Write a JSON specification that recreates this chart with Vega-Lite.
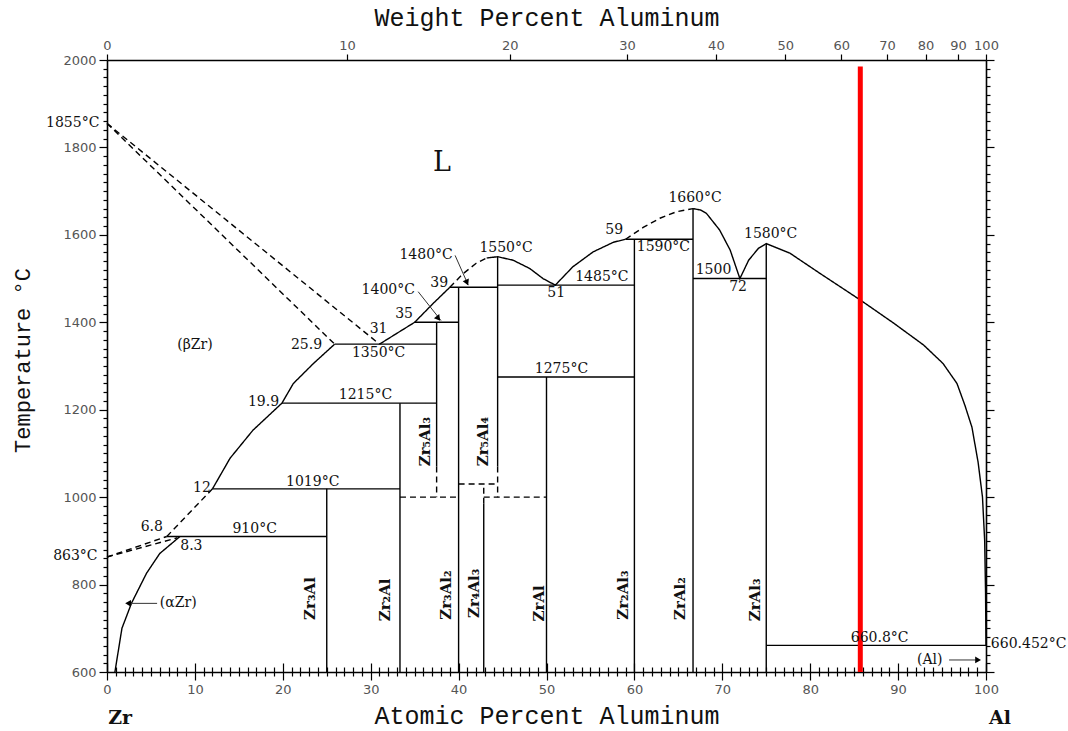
{
  "$schema": "https://vega.github.io/schema/vega-lite/v6.json",
  "width": 879,
  "height": 612,
  "autosize": {"type": "none"},
  "padding": {"left": 107, "top": 60, "right": 82, "bottom": 59},
  "background": "white",
  "config": {
    "view": {"stroke": null},
    "axis": {
      "grid": false,
      "domainColor": "black",
      "domainWidth": 1.6,
      "tickColor": "black",
      "tickWidth": 1.2,
      "labelFont": "DejaVu Sans",
      "labelFontSize": 13,
      "labelColor": "#555",
      "titleColor": "#111",
      "titleFontWeight": "normal"
    }
  },
  "datasets": {
    "bounds": [
      {"x": 25.9, "x2": 37.5, "t": 1350, "t2": 1350, "kind": "firm"},
      {"x": 19.9, "x2": 37.5, "t": 1215, "t2": 1215, "kind": "firm"},
      {"x": 12, "x2": 33.33, "t": 1019, "t2": 1019, "kind": "firm"},
      {"x": 6.8, "x2": 25, "t": 910, "t2": 910, "kind": "firm"},
      {"x": 35, "x2": 40, "t": 1400, "t2": 1400, "kind": "firm"},
      {"x": 39, "x2": 44.44, "t": 1480, "t2": 1480, "kind": "firm"},
      {"x": 44.44, "x2": 60, "t": 1485, "t2": 1485, "kind": "firm"},
      {"x": 44.44, "x2": 60, "t": 1275, "t2": 1275, "kind": "firm"},
      {"x": 59, "x2": 66.67, "t": 1590, "t2": 1590, "kind": "firm"},
      {"x": 66.67, "x2": 75, "t": 1500, "t2": 1500, "kind": "firm"},
      {"x": 75, "x2": 100, "t": 660.8, "t2": 660.8, "kind": "firm"},
      {"x": 25, "x2": 25, "t": 600, "t2": 1019, "kind": "firm"},
      {"x": 33.33, "x2": 33.33, "t": 600, "t2": 1215, "kind": "firm"},
      {"x": 37.5, "x2": 37.5, "t": 1070, "t2": 1400, "kind": "firm"},
      {"x": 40, "x2": 40, "t": 600, "t2": 1480, "kind": "firm"},
      {"x": 42.86, "x2": 42.86, "t": 600, "t2": 985, "kind": "firm"},
      {"x": 44.44, "x2": 44.44, "t": 1070, "t2": 1550, "kind": "firm"},
      {"x": 50, "x2": 50, "t": 600, "t2": 1275, "kind": "firm"},
      {"x": 60, "x2": 60, "t": 600, "t2": 1590, "kind": "firm"},
      {"x": 66.67, "x2": 66.67, "t": 600, "t2": 1660, "kind": "firm"},
      {"x": 75, "x2": 75, "t": 600, "t2": 1580, "kind": "firm"},
      {"x": 0, "x2": 25.9, "t": 1855, "t2": 1350, "kind": "tentative"},
      {"x": 0, "x2": 31, "t": 1855, "t2": 1350, "kind": "tentative"},
      {"x": 12, "x2": 6.8, "t": 1019, "t2": 910, "kind": "tentative"},
      {"x": 0, "x2": 6.8, "t": 863, "t2": 910, "kind": "tentative"},
      {"x": 0, "x2": 8.0, "t": 863, "t2": 907, "kind": "tentative"},
      {"x": 37.5, "x2": 37.5, "t": 1070, "t2": 1000, "kind": "tentative"},
      {"x": 33.33, "x2": 40, "t": 1000, "t2": 1000, "kind": "tentative"},
      {"x": 40, "x2": 44.44, "t": 1030, "t2": 1030, "kind": "tentative"},
      {"x": 44.44, "x2": 44.44, "t": 1070, "t2": 1000, "kind": "tentative"},
      {"x": 42.86, "x2": 42.86, "t": 985, "t2": 1030, "kind": "tentative"},
      {"x": 42.86, "x2": 50, "t": 1000, "t2": 1000, "kind": "tentative"}
    ],
    "curves": [
      {"c": "beta", "x": 25.9, "t": 1350, "kind": "firm"},
      {"c": "beta", "x": 23.5, "t": 1306, "kind": "firm"},
      {"c": "beta", "x": 21.2, "t": 1260, "kind": "firm"},
      {"c": "beta", "x": 19.9, "t": 1215, "kind": "firm"},
      {"c": "beta", "x": 16.6, "t": 1153, "kind": "firm"},
      {"c": "beta", "x": 14.0, "t": 1089, "kind": "firm"},
      {"c": "beta", "x": 12, "t": 1019, "kind": "firm"},
      {"c": "alpha", "x": 8.3, "t": 910, "kind": "firm"},
      {"c": "alpha", "x": 6.0, "t": 871, "kind": "firm"},
      {"c": "alpha", "x": 4.5, "t": 826, "kind": "firm"},
      {"c": "alpha", "x": 2.8, "t": 758, "kind": "firm"},
      {"c": "alpha", "x": 1.7, "t": 700, "kind": "firm"},
      {"c": "alpha", "x": 0.9, "t": 600, "kind": "firm"},
      {"c": "liq1", "x": 31, "t": 1350, "kind": "firm"},
      {"c": "liq1", "x": 33, "t": 1375, "kind": "firm"},
      {"c": "liq1", "x": 35, "t": 1400, "kind": "firm"},
      {"c": "liq1", "x": 37.1, "t": 1443, "kind": "firm"},
      {"c": "liq1", "x": 39, "t": 1480, "kind": "firm"},
      {"c": "liq2", "x": 39, "t": 1480, "kind": "tentative"},
      {"c": "liq2", "x": 40.5, "t": 1511, "kind": "tentative"},
      {"c": "liq2", "x": 42, "t": 1535, "kind": "tentative"},
      {"c": "liq2", "x": 43.2, "t": 1547, "kind": "tentative"},
      {"c": "liq3", "x": 43.2, "t": 1547, "kind": "firm"},
      {"c": "liq3", "x": 44.44, "t": 1550, "kind": "firm"},
      {"c": "liq3", "x": 46.2, "t": 1542, "kind": "firm"},
      {"c": "liq3", "x": 48.1, "t": 1523, "kind": "firm"},
      {"c": "liq3", "x": 49.6, "t": 1500, "kind": "firm"},
      {"c": "liq3", "x": 51, "t": 1485, "kind": "firm"},
      {"c": "liq3", "x": 53, "t": 1527, "kind": "firm"},
      {"c": "liq3", "x": 55.3, "t": 1561, "kind": "firm"},
      {"c": "liq3", "x": 57.6, "t": 1583, "kind": "firm"},
      {"c": "liq3", "x": 59, "t": 1590, "kind": "firm"},
      {"c": "liq4", "x": 59, "t": 1590, "kind": "tentative"},
      {"c": "liq4", "x": 61, "t": 1617, "kind": "tentative"},
      {"c": "liq4", "x": 62.9, "t": 1638, "kind": "tentative"},
      {"c": "liq4", "x": 64.8, "t": 1653, "kind": "tentative"},
      {"c": "liq4", "x": 66.67, "t": 1660, "kind": "tentative"},
      {"c": "liq5", "x": 66.67, "t": 1660, "kind": "firm"},
      {"c": "liq5", "x": 67.5, "t": 1657, "kind": "firm"},
      {"c": "liq5", "x": 68.2, "t": 1649, "kind": "firm"},
      {"c": "liq5", "x": 69.7, "t": 1611, "kind": "firm"},
      {"c": "liq5", "x": 70.9, "t": 1565, "kind": "firm"},
      {"c": "liq5", "x": 72, "t": 1500, "kind": "firm"},
      {"c": "liq5", "x": 73, "t": 1542, "kind": "firm"},
      {"c": "liq5", "x": 74.1, "t": 1569, "kind": "firm"},
      {"c": "liq5", "x": 75, "t": 1580, "kind": "firm"},
      {"c": "liq5", "x": 77.7, "t": 1558, "kind": "firm"},
      {"c": "liq5", "x": 81.1, "t": 1512, "kind": "firm"},
      {"c": "liq5", "x": 85.7, "t": 1451, "kind": "firm"},
      {"c": "liq5", "x": 89.5, "t": 1398, "kind": "firm"},
      {"c": "liq5", "x": 92.9, "t": 1348, "kind": "firm"},
      {"c": "liq5", "x": 95.1, "t": 1306, "kind": "firm"},
      {"c": "liq5", "x": 96.7, "t": 1260, "kind": "firm"},
      {"c": "liq5", "x": 97.6, "t": 1210, "kind": "firm"},
      {"c": "liq5", "x": 98.4, "t": 1160, "kind": "firm"},
      {"c": "liq5", "x": 99.1, "t": 1080, "kind": "firm"},
      {"c": "liq5", "x": 99.6, "t": 1000, "kind": "firm"},
      {"c": "liq5", "x": 99.85, "t": 900, "kind": "firm"},
      {"c": "liq5", "x": 99.95, "t": 780, "kind": "firm"},
      {"c": "liq5", "x": 100, "t": 660.45, "kind": "firm"}
    ],
    "pointers": [
      {"x": 35.4, "x2": 38.0, "t": 1470, "t2": 1404},
      {"x": 39.6, "x2": 41.1, "t": 1553, "t2": 1485},
      {"x": 5.7, "x2": 2.6, "t": 757, "t2": 757},
      {"x": 95.8, "x2": 98.9, "t": 627.5, "t2": 627.5}
    ],
    "values": [
      {"x": -3.9, "t": 1857, "label": "1855°C"},
      {"x": -3.6, "t": 866, "label": "863°C"},
      {"x": 22.7, "t": 1348, "label": "25.9"},
      {"x": 30.9, "t": 1330, "label": "1350°C"},
      {"x": 30.9, "t": 1384, "label": "31"},
      {"x": 33.8, "t": 1420, "label": "35"},
      {"x": 32.0, "t": 1475, "label": "1400°C"},
      {"x": 37.8, "t": 1489, "label": "39"},
      {"x": 36.3, "t": 1554, "label": "1480°C"},
      {"x": 45.4, "t": 1569, "label": "1550°C"},
      {"x": 51.1, "t": 1466, "label": "51"},
      {"x": 56.3, "t": 1503, "label": "1485°C"},
      {"x": 57.7, "t": 1611, "label": "59"},
      {"x": 63.3, "t": 1573, "label": "1590°C"},
      {"x": 66.9, "t": 1684, "label": "1660°C"},
      {"x": 69.0, "t": 1519, "label": "1500"},
      {"x": 71.8, "t": 1480, "label": "72"},
      {"x": 75.5, "t": 1602, "label": "1580°C"},
      {"x": 17.8, "t": 1218, "label": "19.9"},
      {"x": 29.4, "t": 1234, "label": "1215°C"},
      {"x": 51.7, "t": 1292, "label": "1275°C"},
      {"x": 10.8, "t": 1022, "label": "12"},
      {"x": 23.4, "t": 1035, "label": "1019°C"},
      {"x": 5.1, "t": 932, "label": "6.8"},
      {"x": 16.8, "t": 928, "label": "910°C"},
      {"x": 9.6, "t": 888, "label": "8.3"},
      {"x": 87.9, "t": 677, "label": "660.8°C"}
    ],
    "phases": [
      {"x": 10.0, "t": 1348, "label": "(βZr)"},
      {"x": 8.1, "t": 757, "label": "(αZr)"},
      {"x": 93.6, "t": 627, "label": "(Al)"}
    ],
    "compounds": [
      {"x": 23.1, "t": 768, "label": "Zr₃Al"},
      {"x": 31.6, "t": 765, "label": "Zr₂Al"},
      {"x": 36.2, "t": 1127, "label": "Zr₅Al₃"},
      {"x": 38.6, "t": 776, "label": "Zr₃Al₂"},
      {"x": 41.7, "t": 780, "label": "Zr₄Al₃"},
      {"x": 42.8, "t": 1127, "label": "Zr₅Al₄"},
      {"x": 49.1, "t": 757, "label": "ZrAl"},
      {"x": 58.7, "t": 776, "label": "Zr₂Al₃"},
      {"x": 65.2, "t": 768, "label": "ZrAl₂"},
      {"x": 73.7, "t": 765, "label": "ZrAl₃"}
    ]
  },
  "resolve": {"axis": {"x": "independent", "y": "independent"}},
  "layer": [
    {
      "data": {"name": "bounds"},
      "mark": {"type": "rule", "color": "black", "strokeWidth": 1.4},
      "encoding": {
        "x": {
          "field": "x", "type": "quantitative",
          "scale": {"domain": [0, 100], "nice": false, "zero": false},
          "axis": {
            "orient": "bottom", "tickCount": 100,
            "labelExpr": "datum.value % 10 === 0 ? datum.label : ''",
            "labelOverlap": false, "labelFlush": false, "labelPadding": 3,
            "tickSize": {"condition": {"test": "datum.value % 10 === 0", "value": 8}, "value": 4},
            "grid": true, "gridColor": "black", "gridWidth": 1.2,
            "gridDash": {"condition": {"test": "datum.value % 10 === 0", "value": [9, 603]}, "value": [5, 607]},
            "gridDashOffset": {"condition": {"test": "datum.value % 10 === 0", "value": 9}, "value": 5},
            "domain": true,
            "title": "Atomic Percent Aluminum", "titleFont": "Liberation Mono",
            "titleFontSize": 25, "titleBaseline": "middle", "titleY": 43
          }
        },
        "x2": {"field": "x2"},
        "y": {
          "field": "t", "type": "quantitative",
          "scale": {"domain": [600, 2000], "nice": false, "zero": false},
          "axis": {
            "orient": "left", "tickCount": 70, "format": "d",
            "labelExpr": "datum.value % 200 === 0 ? datum.label : ''",
            "labelOverlap": false, "labelPadding": 3,
            "tickSize": {"condition": {"test": "datum.value % 200 === 0", "value": 8}, "value": 4},
            "domain": true,
            "title": "Temperature °C", "titleFont": "Liberation Mono",
            "titleFontSize": 22, "titleAngle": 270, "titleBaseline": "middle",
            "titleAlign": "center", "titleX": -85, "titleY": 300
          }
        },
        "y2": {"field": "t2"},
        "strokeDash": {
          "field": "kind", "type": "nominal",
          "scale": {"domain": ["firm", "tentative"], "range": [[1, 0], [6, 4]]},
          "legend": null
        }
      }
    },
    {
      "data": {"name": "curves"},
      "mark": {"type": "line", "color": "black", "strokeWidth": 1.4},
      "encoding": {
        "x": {"field": "x", "type": "quantitative", "scale": {"domain": [0, 100], "nice": false, "zero": false}, "axis": null},
        "y": {"field": "t", "type": "quantitative", "scale": {"domain": [600, 2000], "nice": false, "zero": false}, "axis": null},
        "detail": {"field": "c", "type": "nominal"},
        "strokeDash": {
          "field": "kind", "type": "nominal",
          "scale": {"domain": ["firm", "tentative"], "range": [[1, 0], [6, 4]]},
          "legend": null
        }
      }
    },
    {
      "data": {"values": [{"x": 85.7, "t": 600, "t2": 1985}]},
      "mark": {"type": "rule", "color": "#ff0000", "strokeWidth": 5},
      "encoding": {
        "x": {
          "field": "x", "type": "quantitative",
          "scale": {"domain": [0, 100], "nice": false, "zero": false},
          "axis": {
            "orient": "top",
            "values": [0, 27.31, 45.81, 59.17, 69.27, 77.17, 83.53, 88.75, 93.12, 96.82, 100],
            "labelExpr": "format(round(2698 * datum.value / (26.98 * datum.value + 91.224 * (100 - datum.value))), 'd')",
            "tickSize": 6, "labelPadding": 2, "labelFlush": false, "labelOverlap": false, "domain": true,
            "title": "Weight Percent Aluminum", "titleFont": "Liberation Mono",
            "titleFontSize": 25, "titleBaseline": "middle", "titleY": -43
          }
        },
        "y": {
          "field": "t", "type": "quantitative",
          "scale": {"domain": [600, 2000], "nice": false, "zero": false},
          "axis": {
            "orient": "right", "tickCount": 70, "labels": false, "domain": true, "title": null,
            "tickSize": {"condition": {"test": "datum.value % 200 === 0", "value": 8}, "value": 4}
          }
        },
        "y2": {"field": "t2"}
      }
    },
    {
      "data": {"name": "pointers"},
      "mark": {"type": "rule", "color": "#333", "strokeWidth": 1},
      "encoding": {
        "x": {"field": "x", "type": "quantitative", "scale": {"domain": [0, 100], "nice": false, "zero": false}, "axis": null},
        "x2": {"field": "x2"},
        "y": {"field": "t", "type": "quantitative", "scale": {"domain": [600, 2000], "nice": false, "zero": false}, "axis": null},
        "y2": {"field": "t2"}
      }
    },
    {
      "data": {"values": [{"x": 37.7, "t": 1409}]},
      "mark": {"type": "point", "shape": "triangle-down", "filled": true, "color": "black", "size": 45, "angle": 322, "opacity": 1},
      "encoding": {
        "x": {"field": "x", "type": "quantitative", "scale": {"domain": [0, 100], "nice": false, "zero": false}, "axis": null},
        "y": {"field": "t", "type": "quantitative", "scale": {"domain": [600, 2000], "nice": false, "zero": false}, "axis": null}
      }
    },
    {
      "data": {"values": [{"x": 40.95, "t": 1491}]},
      "mark": {"type": "point", "shape": "triangle-down", "filled": true, "color": "black", "size": 45, "angle": 337, "opacity": 1},
      "encoding": {
        "x": {"field": "x", "type": "quantitative", "scale": {"domain": [0, 100], "nice": false, "zero": false}, "axis": null},
        "y": {"field": "t", "type": "quantitative", "scale": {"domain": [600, 2000], "nice": false, "zero": false}, "axis": null}
      }
    },
    {
      "data": {"values": [{"x": 2.4, "t": 757}]},
      "mark": {"type": "point", "shape": "triangle-left", "filled": true, "color": "black", "size": 45, "opacity": 1},
      "encoding": {
        "x": {"field": "x", "type": "quantitative", "scale": {"domain": [0, 100], "nice": false, "zero": false}, "axis": null},
        "y": {"field": "t", "type": "quantitative", "scale": {"domain": [600, 2000], "nice": false, "zero": false}, "axis": null}
      }
    },
    {
      "data": {"values": [{"x": 99.1, "t": 627.5}]},
      "mark": {"type": "point", "shape": "triangle-right", "filled": true, "color": "black", "size": 45, "opacity": 1},
      "encoding": {
        "x": {"field": "x", "type": "quantitative", "scale": {"domain": [0, 100], "nice": false, "zero": false}, "axis": null},
        "y": {"field": "t", "type": "quantitative", "scale": {"domain": [600, 2000], "nice": false, "zero": false}, "axis": null}
      }
    },
    {
      "data": {"name": "values"},
      "mark": {"type": "text", "font": "DejaVu Serif", "fontSize": 14, "color": "#111", "align": "center", "baseline": "middle", "clip": false},
      "encoding": {
        "x": {"field": "x", "type": "quantitative", "scale": {"domain": [0, 100], "nice": false, "zero": false}, "axis": null},
        "y": {"field": "t", "type": "quantitative", "scale": {"domain": [600, 2000], "nice": false, "zero": false}, "axis": null},
        "text": {"field": "label", "type": "nominal"}
      }
    },
    {
      "data": {"values": [{"x": 100.55, "t": 665, "label": "660.452°C"}]},
      "mark": {"type": "text", "font": "DejaVu Serif", "fontSize": 14, "color": "#111", "align": "left", "baseline": "middle", "clip": false},
      "encoding": {
        "x": {"field": "x", "type": "quantitative", "scale": {"domain": [0, 100], "nice": false, "zero": false}, "axis": null},
        "y": {"field": "t", "type": "quantitative", "scale": {"domain": [600, 2000], "nice": false, "zero": false}, "axis": null},
        "text": {"field": "label", "type": "nominal"}
      }
    },
    {
      "data": {"name": "phases"},
      "mark": {"type": "text", "font": "DejaVu Serif", "fontSize": 14, "color": "#111", "align": "center", "baseline": "middle"},
      "encoding": {
        "x": {"field": "x", "type": "quantitative", "scale": {"domain": [0, 100], "nice": false, "zero": false}, "axis": null},
        "y": {"field": "t", "type": "quantitative", "scale": {"domain": [600, 2000], "nice": false, "zero": false}, "axis": null},
        "text": {"field": "label", "type": "nominal"}
      }
    },
    {
      "data": {"values": [{"x": 38.1, "t": 1764, "label": "L"}]},
      "mark": {"type": "text", "font": "DejaVu Serif", "fontSize": 27, "color": "#111", "align": "center", "baseline": "middle"},
      "encoding": {
        "x": {"field": "x", "type": "quantitative", "scale": {"domain": [0, 100], "nice": false, "zero": false}, "axis": null},
        "y": {"field": "t", "type": "quantitative", "scale": {"domain": [600, 2000], "nice": false, "zero": false}, "axis": null},
        "text": {"field": "label", "type": "nominal"}
      }
    },
    {
      "data": {"name": "compounds"},
      "mark": {"type": "text", "font": "DejaVu Serif", "fontSize": 15, "fontWeight": "bold", "color": "#111", "align": "center", "baseline": "middle", "angle": 270},
      "encoding": {
        "x": {"field": "x", "type": "quantitative", "scale": {"domain": [0, 100], "nice": false, "zero": false}, "axis": null},
        "y": {"field": "t", "type": "quantitative", "scale": {"domain": [600, 2000], "nice": false, "zero": false}, "axis": null},
        "text": {"field": "label", "type": "nominal"}
      }
    },
    {
      "data": {"values": [{"x": 1.5, "t": 494, "label": "Zr"}, {"x": 101.6, "t": 494, "label": "Al"}]},
      "mark": {"type": "text", "font": "DejaVu Serif", "fontSize": 19, "fontWeight": "bold", "color": "#111", "align": "center", "baseline": "middle", "clip": false},
      "encoding": {
        "x": {"field": "x", "type": "quantitative", "scale": {"domain": [0, 100], "nice": false, "zero": false}, "axis": null},
        "y": {"field": "t", "type": "quantitative", "scale": {"domain": [600, 2000], "nice": false, "zero": false}, "axis": null},
        "text": {"field": "label", "type": "nominal"}
      }
    }
  ]
}
